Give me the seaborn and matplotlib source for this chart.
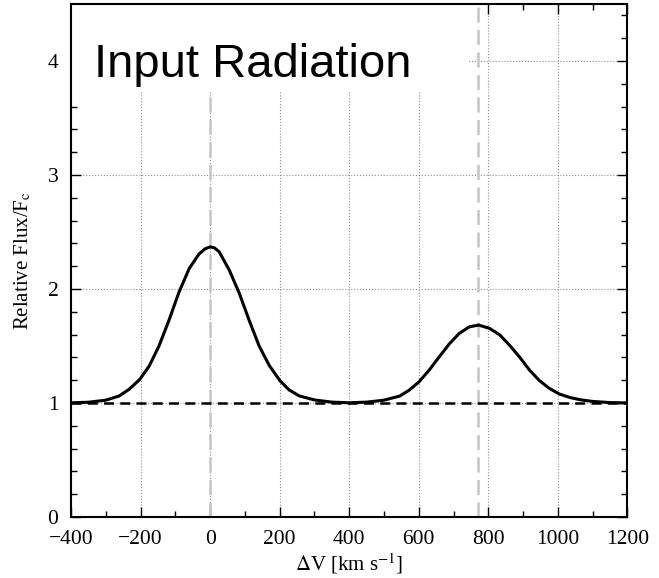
import numpy as np
import pandas as pd
import seaborn as sns
import matplotlib.pyplot as plt
from matplotlib.patches import Rectangle
from matplotlib.ticker import MultipleLocator

# curve (velocity in km/s, relative flux)
vel = [-400, -350, -300, -262, -233, -202, -175, -147, -118, -89, -60, -32, -15, 0,
       12, 26, 55, 84, 112, 141, 170, 201, 227, 256, 300, 350, 400,
       450, 500, 545, 573, 601, 630, 659, 688, 716, 745, 772, 803, 832, 860,
       889, 918, 947, 975, 1004, 1035, 1065, 1100, 1150, 1200]
flux = [1.002, 1.007, 1.025, 1.061, 1.12, 1.208, 1.325, 1.50, 1.728, 1.976, 2.18, 2.307, 2.352, 2.37,
        2.362, 2.327, 2.167, 1.962, 1.728, 1.50, 1.33, 1.195, 1.115, 1.063, 1.027, 1.008, 1.002,
        1.008, 1.025, 1.061, 1.114, 1.187, 1.29, 1.406, 1.52, 1.61, 1.668, 1.684, 1.655, 1.60, 1.51,
        1.406, 1.29, 1.196, 1.129, 1.079, 1.048, 1.028, 1.014, 1.004, 1.001]
line_centres = [0, 770]   # gray dashed markers
continuum = 1.0

df = pd.DataFrame({"v": vel, "f": flux})

sns.set_style("ticks")
plt.rcParams['font.family'] = ['Liberation Serif', 'DejaVu Serif']
plt.rcParams['mathtext.fontset'] = 'stix'
plt.rcParams['text.color'] = 'black'
plt.rcParams['axes.labelcolor'] = 'black'
plt.rcParams['xtick.color'] = 'black'
plt.rcParams['ytick.color'] = 'black'

fig = plt.figure(figsize=(6.59, 5.78), dpi=100)
ax = fig.add_axes([0.1077, 0.1055, 0.8445, 0.8875])

ax.grid(True, which='major', linestyle=':', color='#909090', linewidth=0.8)
for c in line_centres:
    ax.axvline(c, color='#c4c4c4', linestyle=(0, (6, 3)), linewidth=1.8, zorder=1.5)
ax.axhline(continuum, color='black', linestyle=(0, (4, 2.5)), linewidth=1.8, zorder=2)

sns.lineplot(data=df, x="v", y="f", color='black', linewidth=2.2, ax=ax, zorder=3)

# white label box in the top-left corner
ax.add_patch(Rectangle((0, 0.828), 0.716, 0.172, transform=ax.transAxes,
                       facecolor='white', edgecolor='none', zorder=2.5))
ax.text(0.041, 0.858, "Input Radiation", transform=ax.transAxes, color='black',
        fontsize=34, family=['Liberation Sans', 'DejaVu Sans'], zorder=4)

ax.set_xlim(-400, 1200)
ax.set_ylim(0, 4.5)
ax.xaxis.set_major_locator(MultipleLocator(200))
ax.xaxis.set_minor_locator(MultipleLocator(100))
ax.yaxis.set_major_locator(MultipleLocator(1))
ax.yaxis.set_minor_locator(MultipleLocator(0.2))
ax.tick_params(which='both', direction='in', top=True, right=True, labelsize=15.5)
ax.tick_params(which='major', length=7, width=1)
ax.tick_params(which='minor', length=4, width=1)
ax.tick_params(axis='x', pad=9)
ax.tick_params(axis='y', pad=9)
for s in ax.spines.values():
    s.set_linewidth(1.5)
    s.set_color('black')

ax.set_xlabel(r"$\Delta$V [km s$^{-1}$]", fontsize=15, labelpad=2)
ax.set_ylabel(r"Relative Flux/F$_{\rm c}$", fontsize=15, labelpad=10)

fig.savefig("out.png", dpi=100)
